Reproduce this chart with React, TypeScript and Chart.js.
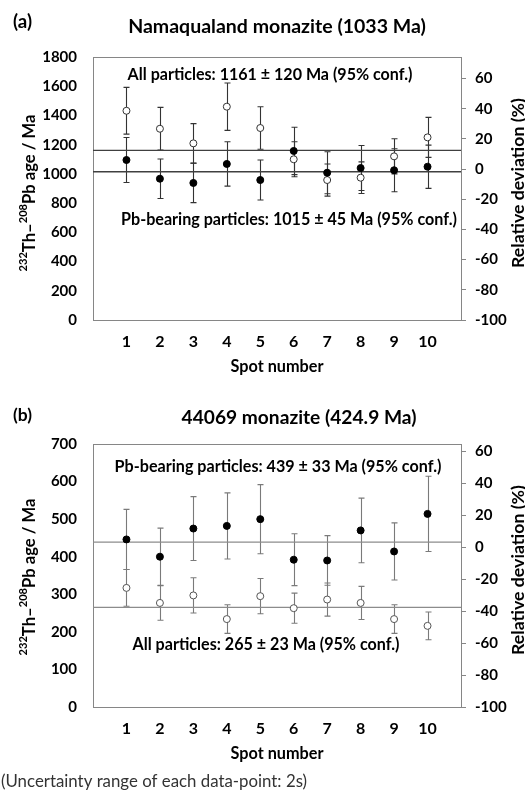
import React, { useEffect, useRef } from 'react';
import { Chart, registerables } from 'chart.js';

Chart.register(...registerables);

// ---------- shared ----------
const spots = [1, 2, 3, 4, 5, 6, 7, 8, 9, 10];
const devTicks = [-100, -80, -60, -40, -20, 0, 20, 40, 60];
const xTitle = 'Spot number';
const rightTitle = 'Relative deviation (%)';
const footnote = '(Uncertainty range of each data-point: 2s)';

// ---------- panel (a) ----------
const aLabel = '(a)';
const aTitle = 'Namaqualand monazite (1033 Ma)';
const aRefAge = 1033;
const aAgeTicks = [0, 200, 400, 600, 800, 1000, 1200, 1400, 1600, 1800];
const aAllAge = [1432, 1309, 1209, 1460, 1314, 1100, 958, 974, 1120, 1250];
const aAllErr = [160, 146, 135, 162, 145, 120, 110, 108, 120, 137];
const aPbAge = [1095, 967, 938, 1068, 958, 1157, 1008, 1040, 1025, 1049];
const aPbErr = [154, 135, 135, 152, 137, 162, 144, 154, 147, 148];
const aAllMean = 1161;
const aPbMean = 1015;
const aAllText = 'All particles: 1161 ± 120 Ma (95% conf.)';
const aPbText = 'Pb-bearing particles: 1015 ± 45 Ma (95% conf.)';

// ---------- panel (b) ----------
const bLabel = '(b)';
const bTitle = '44069 monazite (424.9 Ma)';
const bRefAge = 424.9;
const bAgeTicks = [0, 100, 200, 300, 400, 500, 600, 700];
const bPbAge = [446, 400, 475, 482, 500, 392, 390, 470, 414, 514];
const bPbErr = [80, 76, 85, 88, 92, 69, 66, 86, 76, 100];
const bAllAge = [317, 277, 297, 234, 295, 263, 286, 277, 234, 216];
const bAllErr = [49, 46, 47, 38, 47, 40, 44, 44, 38, 37];
const bPbMean = 439;
const bAllMean = 265;
const bPbText = 'Pb-bearing particles: 439 ± 33 Ma (95% conf.)';
const bAllText = 'All particles: 265 ± 23 Ma (95% conf.)';

const FONT = 'Lato, "Open Sans", sans-serif';

type TextSpec = { text: string; x: number; y: number; w: number };

type Panel = {
  refAge: number;
  ageTicks: number[];
  allAge: number[];
  allErr: number[];
  pbAge: number[];
  pbErr: number[];
  allMean: number;
  pbMean: number;
  height: number;
  label: TextSpec;
  title: TextSpec;
  allNote: TextSpec;
  pbNote: TextSpec;
  errColor: string;
  lineColor: string;
  lineWidth: number;
  openBorder: string;
  leftTitleY: number;
  rightTitleY: number;
  foot?: TextSpec;
};

// draws text scaled so that its width equals the width measured on the reference
function fitText(ctx: CanvasRenderingContext2D, t: TextSpec, weight: string, align: CanvasTextAlign = 'center') {
  ctx.font = `${weight} 20px ${FONT}`;
  const m = ctx.measureText(t.text).width;
  const size = (20 * t.w) / m;
  ctx.font = `${weight} ${size.toFixed(2)}px ${FONT}`;
  ctx.textAlign = align;
  ctx.fillText(t.text, t.x, t.y);
}

function richRotated(
  ctx: CanvasRenderingContext2D,
  parts: { t: string; big: boolean }[],
  cx: number,
  cy: number,
  targetW: number
) {
  const measure = (bs: number, ss: number) => {
    let total = 0;
    for (const p of parts) {
      ctx.font = `bold ${p.big ? bs : ss}px ${FONT}`;
      total += ctx.measureText(p.t).width;
    }
    return total;
  };
  const k = targetW / measure(15, 10);
  const bs = 15 * k;
  const ss = 10 * k;
  const total = measure(bs, ss);
  ctx.save();
  ctx.translate(cx, cy);
  ctx.rotate(-Math.PI / 2);
  ctx.textAlign = 'left';
  ctx.textBaseline = 'alphabetic';
  let x = -total / 2;
  for (const p of parts) {
    ctx.font = `bold ${p.big ? bs : ss}px ${FONT}`;
    ctx.fillText(p.t, x, p.big ? bs * 0.36 : -bs * 0.12);
    x += ctx.measureText(p.t).width;
  }
  ctx.restore();
}

function makePlugin(p: Panel) {
  return {
    id: 'deco',
    beforeDatasetsDraw(chart: any) {
      const { ctx, chartArea, scales } = chart;
      const x = scales.x;
      const y = scales.y;
      ctx.save();
      ctx.strokeStyle = '#868686';
      ctx.lineWidth = 1;
      ctx.strokeRect(
        Math.round(chartArea.left) + 0.5,
        Math.round(chartArea.top) + 0.5,
        Math.round(chartArea.right - chartArea.left),
        Math.round(chartArea.bottom - chartArea.top)
      );
      ctx.strokeStyle = p.errColor;
      ctx.lineWidth = 1.1;
      const drawBars = (vals: number[], errs: number[]) => {
        spots.forEach((s, i) => {
          const px = Math.round(x.getPixelForValue(s)) + 0.5;
          const top = y.getPixelForValue(vals[i] + errs[i]);
          const bot = y.getPixelForValue(vals[i] - errs[i]);
          ctx.beginPath();
          ctx.moveTo(px, top);
          ctx.lineTo(px, bot);
          ctx.moveTo(px - 3, top);
          ctx.lineTo(px + 3, top);
          ctx.moveTo(px - 3, bot);
          ctx.lineTo(px + 3, bot);
          ctx.stroke();
        });
      };
      drawBars(p.allAge, p.allErr);
      drawBars(p.pbAge, p.pbErr);
      ctx.restore();
    },
    afterDraw(chart: any) {
      const { ctx, chartArea } = chart;
      ctx.save();
      ctx.fillStyle = '#000';
      ctx.textBaseline = 'middle';
      fitText(ctx, p.label, 'bold', 'left');
      fitText(ctx, p.title, 'bold');
      fitText(ctx, p.allNote, 'bold');
      fitText(ctx, p.pbNote, 'bold');
      fitText(ctx, { text: xTitle, x: (chartArea.left + chartArea.right) / 2, y: 367, w: 93 }, 'bold');
      ctx.save();
      ctx.translate(518, p.rightTitleY);
      ctx.rotate(-Math.PI / 2);
      fitText(ctx, { text: rightTitle, x: 0, y: 0, w: 170 }, 'bold');
      ctx.restore();
      richRotated(
        ctx,
        [
          { t: '232', big: false },
          { t: 'Th–', big: true },
          { t: '208', big: false },
          { t: 'Pb age / Ma', big: true },
        ],
        29,
        p.leftTitleY,
        157
      );
      if (p.foot) {
        ctx.fillStyle = '#333';
        fitText(ctx, p.foot, 'normal', 'left');
      }
      ctx.restore();
    },
  };
}

function makeConfig(p: Panel): any {
  const ageMax = p.ageTicks[p.ageTicks.length - 1];
  const devMax = (ageMax / p.refAge - 1) * 100;
  const tickFont = { family: FONT, size: 15, weight: 'bold' as const };
  const plain = (v: any) => String(v);
  return {
    type: 'scatter',
    data: {
      datasets: [
        {
          label: 'All particles',
          data: spots.map((s, i) => ({ x: s, y: p.allAge[i] })),
          pointRadius: 3.5,
          pointBackgroundColor: '#ffffff',
          pointBorderColor: p.openBorder,
          pointBorderWidth: 1,
          showLine: false,
          order: 1,
        },
        {
          label: 'Pb-bearing particles',
          data: spots.map((s, i) => ({ x: s, y: p.pbAge[i] })),
          pointRadius: 3.5,
          pointBackgroundColor: '#000000',
          pointBorderColor: '#000000',
          pointBorderWidth: 1,
          showLine: false,
          order: 0,
        },
        {
          label: 'All mean',
          data: [
            { x: 0, y: p.allMean },
            { x: 11, y: p.allMean },
          ],
          showLine: true,
          pointRadius: 0,
          borderColor: p.lineColor,
          borderWidth: p.lineWidth,
          order: 3,
        },
        {
          label: 'Pb mean',
          data: [
            { x: 0, y: p.pbMean },
            { x: 11, y: p.pbMean },
          ],
          showLine: true,
          pointRadius: 0,
          borderColor: p.lineColor,
          borderWidth: p.lineWidth,
          order: 3,
        },
      ],
    },
    options: {
      responsive: false,
      animation: false,
      events: [],
      layout: { padding: { top: 57, left: 0, right: 0, bottom: 0 } },
      plugins: { legend: { display: false }, tooltip: { enabled: false }, title: { display: false } },
      scales: {
        x: {
          type: 'linear',
          min: 0,
          max: 11,
          afterBuildTicks: (s: any) => {
            s.ticks = spots.map((v) => ({ value: v }));
          },
          afterFit: (s: any) => {
            s.height = p.height - 320;
          },
          grid: { display: false, drawTicks: false },
          border: { display: false },
          ticks: { font: { ...tickFont, size: 16 }, color: '#000', padding: 12, maxRotation: 0, callback: plain },
        },
        y: {
          type: 'linear',
          position: 'left',
          min: 0,
          max: ageMax,
          afterBuildTicks: (s: any) => {
            s.ticks = p.ageTicks.map((v) => ({ value: v }));
          },
          afterFit: (s: any) => {
            s.width = 93;
          },
          grid: { display: false, drawTicks: false },
          border: { display: false },
          ticks: { font: tickFont, color: '#000', padding: 16, callback: plain },
        },
        y2: {
          type: 'linear',
          position: 'right',
          min: -100,
          max: devMax,
          afterBuildTicks: (s: any) => {
            s.ticks = devTicks.map((v) => ({ value: v }));
          },
          afterFit: (s: any) => {
            s.width = 64;
          },
          grid: { display: true, drawOnChartArea: false, drawTicks: true, tickLength: 5, color: '#868686' },
          border: { display: false },
          ticks: { font: tickFont, color: '#000', padding: 9, callback: plain },
        },
      },
    },
    plugins: [makePlugin(p)],
  };
}

const panelA: Panel = {
  refAge: aRefAge,
  ageTicks: aAgeTicks,
  allAge: aAllAge,
  allErr: aAllErr,
  pbAge: aPbAge,
  pbErr: aPbErr,
  allMean: aAllMean,
  pbMean: aPbMean,
  height: 387,
  label: { text: aLabel, x: 13, y: 22, w: 19 },
  title: { text: aTitle, x: 277, y: 27, w: 298 },
  allNote: { text: aAllText, x: 270, y: 75, w: 285 },
  pbNote: { text: aPbText, x: 289, y: 220, w: 336 },
  errColor: '#333333',
  lineColor: '#404040',
  lineWidth: 1.4,
  openBorder: '#333333',
  leftTitleY: 193,
  rightTitleY: 183,
};

const panelB: Panel = {
  refAge: bRefAge,
  ageTicks: bAgeTicks,
  allAge: bAllAge,
  allErr: bAllErr,
  pbAge: bPbAge,
  pbErr: bPbErr,
  allMean: bAllMean,
  pbMean: bPbMean,
  height: 404,
  label: { text: bLabel, x: 13, y: 28, w: 19 },
  title: { text: bTitle, x: 299, y: 31, w: 235 },
  allNote: { text: bAllText, x: 266, y: 258, w: 267 },
  pbNote: { text: bPbText, x: 278, y: 80, w: 327 },
  errColor: '#7a7a7a',
  lineColor: '#8c8c8c',
  lineWidth: 1.3,
  openBorder: '#555555',
  leftTitleY: 190,
  rightTitleY: 183,
  foot: { text: footnote, x: 1, y: 395, w: 306 },
};

function PanelChart({ panel, top }: { panel: Panel; top: number }) {
  const ref = useRef<HTMLCanvasElement | null>(null);
  useEffect(() => {
    if (!ref.current) return;
    const chart = new Chart(ref.current, makeConfig(panel));
    return () => chart.destroy();
  }, [panel]);
  return (
    <canvas
      ref={ref}
      width={525}
      height={panel.height}
      style={{ position: 'absolute', left: 0, top, width: 525, height: panel.height, display: 'block' }}
    />
  );
}

export default function App() {
  return (
    <div style={{ position: 'fixed', left: 0, top: 0, width: 525, height: 791, background: '#fff', overflow: 'hidden' }}>
      <PanelChart panel={panelA} top={0} />
      <PanelChart panel={panelB} top={387} />
    </div>
  );
}
